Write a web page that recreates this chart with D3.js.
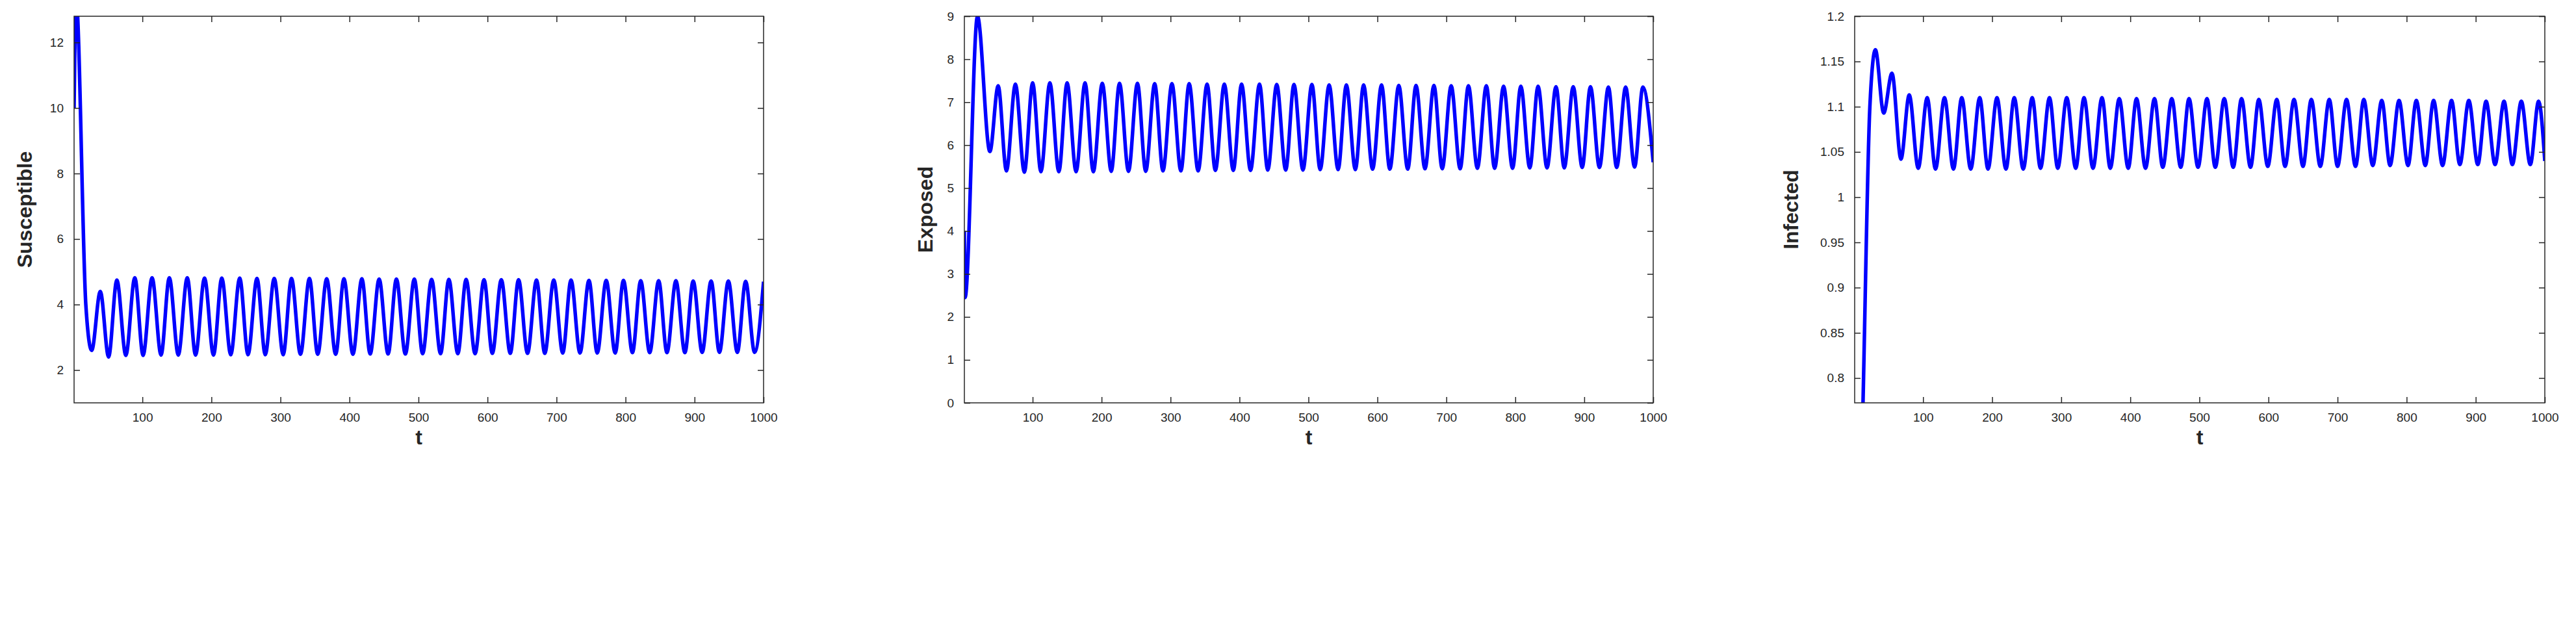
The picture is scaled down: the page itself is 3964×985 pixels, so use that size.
<!DOCTYPE html>
<html><head><meta charset="utf-8">
<script src="https://cdn.jsdelivr.net/npm/d3@7"></script>
<style>body{margin:0;background:#fff}</style></head>
<body><svg id="c" width="3964" height="985"></svg>
<script>
// Susceptible: extrema (t, value)
const susceptible = [[1,10],[4,13.3],[18,4],[26.5,2.6],[39,4.4],[51,2.4],[63,4.75],[76,2.45],
[89,4.82],[101,2.45],[114,4.82],[127,2.46],[139,4.82],[152,2.46],[165,4.82],[177,2.46],[190,4.81],[203,2.46],
[215,4.81],[228,2.47],[241,4.81],[253,2.47],[266,4.8],[278,2.47],[291,4.8],[304,2.47],[316,4.8],[329,2.48],
[342,4.8],[354,2.48],[367,4.79],[380,2.48],[392,4.79],[405,2.48],[418,4.79],[430,2.49],[443,4.78],[456,2.49],
[468,4.78],[481,2.49],[494,4.78],[506,2.5],[519,4.77],[532,2.5],[544,4.77],[557,2.5],[569,4.77],[582,2.5],
[595,4.76],[607,2.51],[620,4.76],[633,2.51],[645,4.76],[658,2.51],[671,4.75],[683,2.51],[696,4.75],[709,2.52],
[721,4.75],[734,2.52],[747,4.74],[759,2.52],[772,4.74],[785,2.52],[797,4.74],[810,2.53],[822,4.73],[835,2.53],
[848,4.73],[860,2.53],[873,4.73],[886,2.53],[898,4.72],[911,2.54],[924,4.72],[936,2.54],[949,4.72],[962,2.54],
[974,4.71],[987,2.54],[1000,4.7]];
// Exposed: extrema (t, value)
const exposed = [[1,4],[2,2.45],[20,9],[38,5.85],[50,7.38],[62,5.4],[75,7.42],[88,5.37],
[100,7.45],[112,5.38],[125,7.45],[138,5.38],[150,7.45],[163,5.38],[176,7.45],[188,5.38],[201,7.44],[214,5.39],
[226,7.44],[239,5.39],[252,7.44],[264,5.39],[277,7.43],[289,5.4],[302,7.43],[315,5.4],[327,7.43],[340,5.4],
[353,7.42],[365,5.41],[378,7.42],[391,5.41],[403,7.42],[416,5.41],[429,7.42],[441,5.42],[454,7.41],[467,5.42],
[479,7.41],[492,5.42],[505,7.41],[517,5.43],[530,7.4],[543,5.43],[555,7.4],[568,5.43],[580,7.4],[593,5.44],
[606,7.4],[618,5.44],[631,7.39],[644,5.44],[656,7.39],[669,5.45],[682,7.39],[694,5.45],[707,7.38],[720,5.45],
[732,7.38],[745,5.46],[758,7.38],[770,5.46],[783,7.37],[796,5.46],[808,7.37],[821,5.47],[833,7.37],[846,5.47],
[859,7.36],[871,5.47],[884,7.36],[897,5.48],[909,7.36],[922,5.48],[935,7.35],[947,5.48],[960,7.35],[973,5.49],
[985,7.35],[1000,5.6]];
// Infected: extrema (t, value)
const infected = [[1,0.37],[13,0.77],[23,1.1],[31,1.163],[43,1.093],[55,1.137],[68,1.042],[80,1.113],[93,1.032],
[106,1.11],[118,1.031],[131,1.11],[144,1.031],[156,1.11],[169,1.031],[182,1.11],[194,1.031],[207,1.11],[220,1.031],
[232,1.11],[245,1.031],[258,1.11],[270,1.032],[283,1.11],[295,1.032],[308,1.11],[321,1.032],[333,1.11],[346,1.032],
[359,1.11],[371,1.032],[384,1.109],[397,1.032],[409,1.109],[422,1.032],[435,1.109],[447,1.033],[460,1.109],[473,1.033],
[485,1.109],[498,1.033],[511,1.109],[523,1.033],[536,1.109],[549,1.033],[561,1.109],[574,1.033],[586,1.108],[599,1.034],
[612,1.108],[624,1.034],[637,1.108],[650,1.034],[662,1.108],[675,1.034],[688,1.108],[700,1.034],[713,1.108],[726,1.034],
[738,1.108],[751,1.035],[764,1.107],[776,1.035],[789,1.107],[802,1.035],[814,1.107],[827,1.035],[839,1.107],[852,1.035],
[865,1.107],[877,1.036],[890,1.107],[903,1.036],[915,1.106],[928,1.036],[941,1.106],[953,1.036],[966,1.106],[979,1.036],
[991,1.106],[1000,1.04]];

const xTicks = [100,200,300,400,500,600,700,800,900,1000];
const sTicks = [2,4,6,8,10,12];
const eTicks = [0,1,2,3,4,5,6,7,8,9];
const iTicks = [0.8,0.85,0.9,0.95,1,1.05,1.1,1.15,1.2];

const panels = [
  {label:"Susceptible", data:susceptible, yDom:[1,12.8], yTicks:sTicks, x0:114, x1:1175, lx:39},
  {label:"Exposed", data:exposed, yDom:[0,9], yTicks:eTicks, x0:1484, x1:2544, lx:1425},
  {label:"Infected", data:infected, yDom:[0.7726,1.2], yTicks:iTicks, x0:2854, x1:3916, lx:2757}
];
const pTop=25, pBot=620, axC="#262626";
const svg = d3.select("#c");
panels.forEach((p,i)=>{
  const x = d3.scaleLinear().domain([1,1000]).range([p.x0,p.x1]);
  const y = d3.scaleLinear().domain(p.yDom).range([pBot,pTop]);
  const g = svg.append("g");
  g.append("defs").append("clipPath").attr("id","cp"+i).append("rect")
    .attr("x",p.x0).attr("y",pTop).attr("width",p.x1-p.x0).attr("height",pBot-pTop);
  const line = d3.line().x(d=>x(d[0])).y(d=>y(d[1])).curve(d3.curveMonotoneX);
  g.append("path").attr("d",line(p.data)).attr("fill","none").attr("stroke","#0000ff")
    .attr("stroke-width",5.5).attr("clip-path",`url(#cp${i})`);
  const fmt = d3.format("~g");
  const styleAx = s=>{s.select(".domain").remove(); s.selectAll("line").attr("stroke",axC).attr("stroke-width",1.5);
    s.selectAll("text").attr("fill",axC).attr("font-family","Liberation Sans, Arial, sans-serif").attr("font-size",19);};
  g.append("g").attr("transform",`translate(0,${pBot})`).call(d3.axisBottom(x).tickValues(xTicks).tickFormat(fmt).tickSizeInner(-9).tickPadding(16)).call(styleAx);
  g.append("g").attr("transform",`translate(0,${pTop})`).call(d3.axisTop(x).tickValues(xTicks).tickFormat("").tickSizeInner(-9)).call(styleAx);
  g.append("g").attr("transform",`translate(${p.x0},0)`).call(d3.axisLeft(y).tickValues(p.yTicks).tickFormat(fmt).tickSizeInner(-9).tickPadding(16)).call(styleAx);
  g.append("g").attr("transform",`translate(${p.x1},0)`).call(d3.axisRight(y).tickValues(p.yTicks).tickFormat("").tickSizeInner(-9)).call(styleAx);
  g.append("rect").attr("x",p.x0).attr("y",pTop).attr("width",p.x1-p.x0).attr("height",pBot-pTop)
    .attr("fill","none").attr("stroke",axC).attr("stroke-width",1.5);
  g.append("text").attr("x",(p.x0+p.x1)/2).attr("y",684).attr("text-anchor","middle")
    .attr("font-family","Liberation Sans, Arial, sans-serif").attr("font-weight","bold").attr("font-size",32).attr("fill",axC).text("t");
  g.append("text").attr("transform",`translate(${p.lx+10},${(pTop+pBot)/2}) rotate(-90)`).attr("text-anchor","middle")
    .attr("font-family","Liberation Sans, Arial, sans-serif").attr("font-weight","bold").attr("font-size",32).attr("fill",axC).text(p.label);
});
</script></body></html>
